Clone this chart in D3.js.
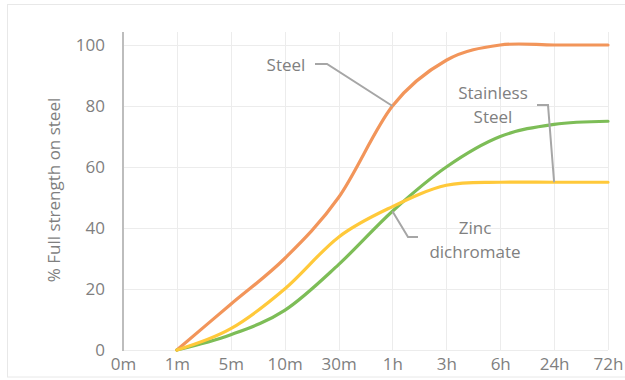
<!DOCTYPE html>
<html>
<head>
<meta charset="utf-8">
<script src="https://cdn.jsdelivr.net/npm/d3@7/dist/d3.min.js"></script>
<style>
  html, body { margin: 0; padding: 0; background: #fff; }
  svg { display: block; font-family: "Open Sans", "Noto Sans", sans-serif; }
</style>
</head>
<body>
<svg id="chart" width="625" height="380"></svg>
<script>
// Curing time categories (log-like spacing, drawn evenly)
const categories = ["0m", "1m", "5m", "10m", "30m", "1h", "3h", "6h", "24h", "72h"];
const yTicks = [0, 20, 40, 60, 80, 100];

// % of full strength reached on each substrate (no reading at 0m)
const steelValues     = [null, 0, 15, 30, 50, 80, 95, 100, 100, 100];
const stainlessValues = [null, 0, 7, 20, 37, 47, 54, 55, 55, 55];
const zincValues      = [null, 0, 5, 13, 28, 45.5, 60, 70, 74, 75];

const series = [
  { name: "Steel",           values: steelValues,     color: "#F2955A" },
  { name: "Zinc dichromate", values: zincValues,      color: "#7DBD57" },
  { name: "Stainless Steel", values: stainlessValues, color: "#FFC93A" }
];

const svg = d3.select("#chart");
const plot = { left: 123, right: 608, top: 32, bottom: 350 };

// outer frame
svg.append("rect")
  .attr("x", 7.5).attr("y", 4.5)
  .attr("width", 640).attr("height", 372.5)
  .attr("fill", "#fff").attr("stroke", "#e8e8e8").attr("stroke-width", 1);

const x = d3.scalePoint().domain(categories).range([plot.left, plot.right]);
const y = d3.scaleLinear().domain([0, 100]).range([plot.bottom, 45]);

// gridlines
svg.append("g").selectAll("line.h").data(yTicks).join("line")
  .attr("x1", plot.left).attr("x2", plot.right)
  .attr("y1", d => y(d) + 0.5).attr("y2", d => y(d) + 0.5)
  .attr("stroke", "#ececec").attr("stroke-width", 1);

svg.append("g").selectAll("line.v").data(categories.slice(1)).join("line")
  .attr("x1", d => Math.round(x(d)) + 0.5).attr("x2", d => Math.round(x(d)) + 0.5)
  .attr("y1", plot.top).attr("y2", plot.bottom)
  .attr("stroke", "#ececec").attr("stroke-width", 1);

// y axis line
svg.append("line")
  .attr("x1", plot.left).attr("x2", plot.left)
  .attr("y1", plot.top).attr("y2", plot.bottom + 1)
  .attr("stroke", "#bdbdbd").attr("stroke-width", 2);

// y tick labels
const yAxis = d3.axisLeft(y).tickValues(yTicks).tickSize(0).tickPadding(18);
const gy = svg.append("g").attr("transform", `translate(${plot.left},0)`).call(yAxis);
gy.select(".domain").remove();
gy.selectAll("text")
  .attr("fill", "#7f7f7f").style("font-size", "17px")
  .style("font-family", "'Open Sans', 'Noto Sans', sans-serif");

// x tick labels
const xAxis = d3.axisBottom(x).tickSize(0).tickPadding(8);
const gx = svg.append("g").attr("transform", `translate(0,${plot.bottom})`).call(xAxis);
gx.select(".domain").remove();
gx.selectAll("text")
  .attr("fill", "#7f7f7f").style("font-size", "17px")
  .style("font-family", "'Open Sans', 'Noto Sans', sans-serif");

// y axis title
svg.append("text")
  .attr("transform", `translate(60,${(92 + 288) / 2}) rotate(-90)`)
  .attr("text-anchor", "middle")
  .attr("fill", "#7f7f7f").style("font-size", "17px")
  .text("% Full strength on steel");

// smoothed series lines
const line = d3.line()
  .defined(d => d.v != null)
  .x(d => x(d.c)).y(d => y(d.v))
  .curve(d3.curveCardinal.tension(0));

svg.append("g").selectAll("path").data(series).join("path")
  .attr("d", s => line(categories.map((c, i) => ({ c, v: s.values[i] }))))
  .attr("fill", "none")
  .attr("stroke", s => s.color)
  .attr("stroke-width", 3.2)
  .attr("stroke-linecap", "round")
  .attr("stroke-linejoin", "round");

// callout labels with leader lines
const callouts = [
  { lines: ["Steel"], tx: 286, ty: 71, at: "1h", values: steelValues,
    path: [[315, 64], [327, 64]] },
  { lines: ["Stainless", "Steel"], tx: 493, ty: 99, at: "24h", values: stainlessValues,
    path: [[537, 105], [548, 105]] },
  { lines: ["Zinc", "dichromate"], tx: 475, ty: 234, at: "1h", values: zincValues,
    path: [[418, 237], [408, 237]] }
];

callouts.forEach(c => {
  const i = categories.indexOf(c.at);
  const pts = c.path.concat([[x(c.at), y(c.values[i])]]);
  svg.append("path")
    .attr("d", d3.line()(pts))
    .attr("fill", "none").attr("stroke", "#a6a6a6").attr("stroke-width", 2);
  const t = svg.append("text")
    .attr("text-anchor", "middle")
    .attr("fill", "#808080").style("font-size", "17px");
  c.lines.forEach((s, k) => {
    t.append("tspan").attr("x", c.tx).attr("y", c.ty + k * 24).text(s);
  });
});
</script>
</body>
</html>
